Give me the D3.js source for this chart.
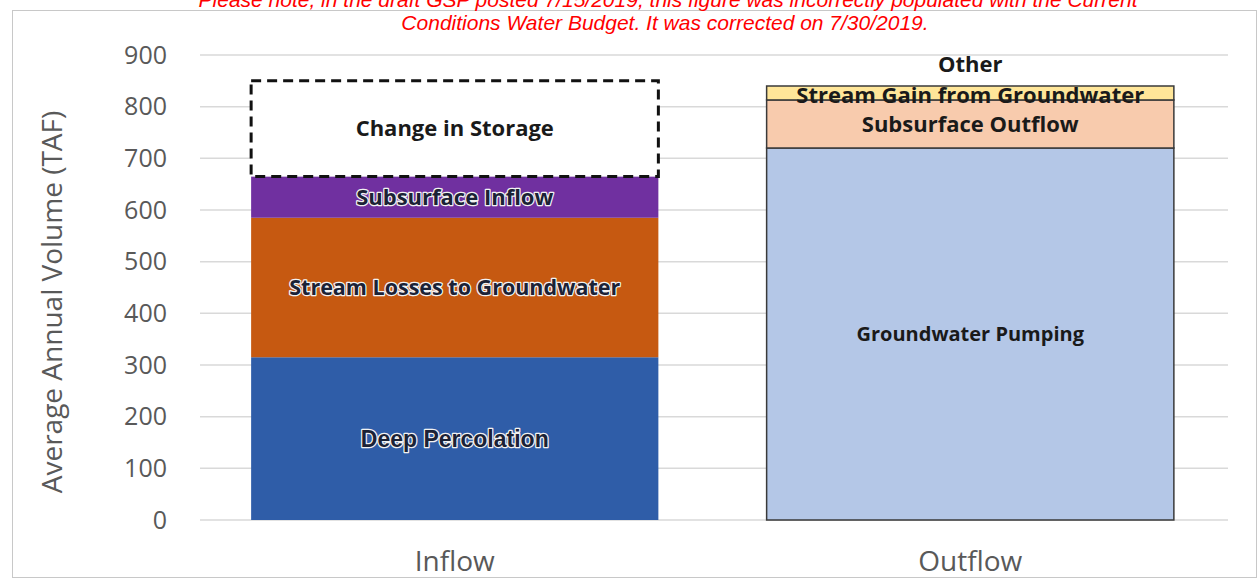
<!DOCTYPE html>
<html>
<head>
<meta charset="utf-8">
<script src="https://cdn.jsdelivr.net/npm/d3@7"></script>
<style>
body { margin: 0; background: #fff; }
svg { display: block; }
</style>
</head>
<body>
<div id="chart"></div>
<script>
// categories and stacked segments (TAF)
var categories = ["Inflow", "Outflow"];
var inflowNames = ["Deep Percolation", "Stream Losses to Groundwater", "Subsurface Inflow", "Change in Storage"];
var inflowValues = [315, 270, 80, 185];
var outflowNames = ["Groundwater Pumping", "Subsurface Outflow", "Stream Gain from Groundwater", "Other"];
var outflowValues = [720, 93, 27, 0];
var yTicks = [0, 100, 200, 300, 400, 500, 600, 700, 800, 900];

var width = 1260, height = 581;

var inflowColors = ["#2f5da8", "#c65911", "#7030a0", "none"];
var outflowColors = ["#b4c7e7", "#f8cbad", "#ffe699", "none"];

var svg = d3.select("#chart").append("svg")
	.attr("width", width)
	.attr("height", height);

// frame
svg.append("rect")
	.attr("x", 12.5).attr("y", 10.5)
	.attr("width", 1244).attr("height", 567)
	.attr("fill", "white")
	.attr("stroke", "#c8c8c8")
	.attr("stroke-width", 1);

var x = d3.scaleBand()
	.domain(categories)
	.range([197, 1228])
	.paddingInner(0.21)
	.paddingOuter(0.105);

var y = d3.scaleLinear()
	.domain([0, 900])
	.range([520, 55]);

// gridlines
svg.append("g").selectAll("line")
	.data(yTicks)
	.enter().append("line")
	.attr("x1", 200).attr("x2", 1228)
	.attr("y1", function(d) { return y(d); })
	.attr("y2", function(d) { return y(d); })
	.attr("stroke", "#d9d9d9")
	.attr("stroke-width", 1.5);

// y axis labels
var yAxis = d3.axisLeft(y).tickValues(yTicks).tickSize(0).tickPadding(0);
var gy = svg.append("g")
	.attr("transform", "translate(167,0)")
	.call(yAxis);
gy.select(".domain").remove();
gy.selectAll("text")
	.attr("fill", "#595959")
	.attr("font-family", "'Open Sans', sans-serif")
	.attr("font-size", 25);

svg.append("text")
	.attr("transform", "translate(62,302) rotate(-90)")
	.attr("text-anchor", "middle")
	.attr("font-family", "'Open Sans', sans-serif")
	.attr("font-size", 28)
	.attr("fill", "#595959")
	.text("Average Annual Volume (TAF)");

// x axis labels
var xAxis = d3.axisBottom(x).tickSize(0).tickPadding(0);
var gx = svg.append("g")
	.attr("transform", "translate(0,551)")
	.call(xAxis);
gx.select(".domain").remove();
gx.selectAll("text")
	.attr("fill", "#595959")
	.attr("font-family", "'Open Sans', sans-serif")
	.attr("font-size", 28);

function stack(names, values, colors) {
	var out = [], acc = 0;
	for (var i = 0; i < names.length; i++) {
		out.push({ name: names[i], y0: acc, y1: acc + values[i], color: colors[i] });
		acc += values[i];
	}
	return out;
}

var inflow = stack(inflowNames, inflowValues, inflowColors);
var outflow = stack(outflowNames, outflowValues, outflowColors);

function drawBar(cat, segs) {
	var g = svg.append("g");
	var bx = x(cat), bw = x.bandwidth();
	segs.forEach(function(s) {
		if (s.y1 - s.y0 <= 0) return;
		var r = g.append("rect")
			.attr("x", bx)
			.attr("y", y(s.y1))
			.attr("width", bw)
			.attr("height", y(s.y0) - y(s.y1))
			.attr("fill", s.color == "none" ? "white" : s.color);
		if (s.color == "none") {
			r.attr("stroke", "#111")
				.attr("stroke-width", 3)
				.attr("stroke-dasharray", "10,6");
		} else if (cat == "Outflow") {
			r.attr("stroke", "#3a3a3a").attr("stroke-width", 1.5);
		}
	});
	return g;
}

var gi = drawBar("Inflow", inflow);
var go = drawBar("Outflow", outflow);

// segment labels
var cx = function(cat) { return x(cat) + x.bandwidth() / 2; };

function label(g, cat, s, opts) {
	var t = g.append("text")
		.attr("x", cx(cat))
		.attr("y", opts.y != null ? opts.y : (y(s.y0) + y(s.y1)) / 2)
		.attr("dy", "0.35em")
		.attr("text-anchor", "middle")
		.attr("font-family", opts.family || "'Open Sans', sans-serif")
		.attr("font-weight", "bold")
		.attr("font-size", opts.size || 22)
		.attr("fill", opts.fill || "#1a1a1a")
		.text(s.name);
	if (opts.halo) {
		t.attr("stroke", "#f2f2f2")
			.attr("stroke-width", 2.5)
			.attr("paint-order", "stroke")
			.attr("stroke-linejoin", "round");
	}
	return t;
}

label(gi, "Inflow", inflow[0], { halo: true, fill: "#1b2236", family: "'Liberation Sans Narrow', sans-serif", size: 23 });
label(gi, "Inflow", inflow[1], { halo: true, fill: "#1b2236", size: 21.5 });
label(gi, "Inflow", inflow[2], { halo: true, fill: "#1b2236", size: 22 });
label(gi, "Inflow", inflow[3], { size: 22 });

label(go, "Outflow", outflow[0], { size: 20 });
label(go, "Outflow", outflow[1], { size: 22 });
label(go, "Outflow", outflow[2], { size: 22, y: y(outflow[2].y1) + 9 });
label(go, "Outflow", outflow[3], { size: 22, y: y(outflow[3].y1) - 22 });

// note in red
var note = svg.append("g")
	.attr("font-family", "'Liberation Sans', Arial, sans-serif")
	.attr("font-style", "italic")
	.attr("font-size", 21)
	.attr("fill", "#ff0000")
	.attr("text-anchor", "middle");
note.append("text")
	.attr("x", 668).attr("y", 7)
	.text("Please note, in the draft GSP posted 7/15/2019, this figure was incorrectly populated with the Current");
note.append("text")
	.attr("x", 665).attr("y", 30)
	.text("Conditions Water Budget. It was corrected on 7/30/2019.");
</script>
</body>
</html>
